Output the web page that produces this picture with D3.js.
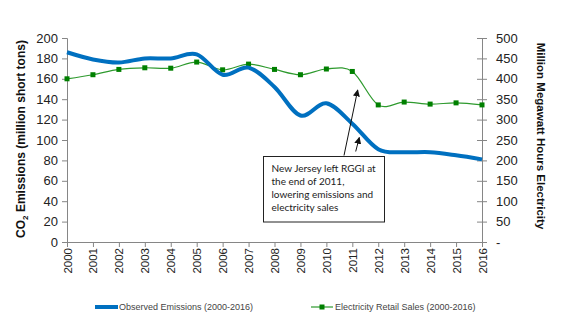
<!DOCTYPE html>
<html>
<head>
<meta charset="utf-8">
<script src="https://cdn.jsdelivr.net/npm/d3@7"></script>
<style>
  body { margin: 0; background: #fff; }
  svg { display: block; font-family: "Liberation Sans", Arial, sans-serif; }
</style>
</head>
<body>
<div id="chart"></div>
<script>
// years on the x axis
var years = [2000, 2001, 2002, 2003, 2004, 2005, 2006, 2007, 2008,
             2009, 2010, 2011, 2012, 2013, 2014, 2015, 2016];
// CO2 emissions, million short tons (left axis)
var emissions = [186, 179, 176, 180, 180, 184, 164, 171, 152,
                 124, 136, 116, 91, 88, 88, 85, 81];
// electricity retail sales, million MWh (right axis)
var sales = [400, 410, 423, 427, 426, 441, 422, 436, 423,
             410, 424, 418, 336, 343, 338, 341, 336];

var leftTicks = [0, 20, 40, 60, 80, 100, 120, 140, 160, 180, 200];
var rightTicks = [0, 50, 100, 150, 200, 250, 300, 350, 400, 450, 500];
var seriesNames = ["Observed Emissions (2000-2016)", "Electricity Retail Sales (2000-2016)"];
var noteLines = ["New Jersey left RGGI at", "the end of 2011,", "lowering emissions and", "electricity sales"];

var width = 576, height = 330;
// plot edges (window.top is read-only, so keep these names distinct)
var pLeft = 67, pRight = 482, pTop = 38, pBottom = 242;
var axisColor = "#868686";

var svg = d3.select("#chart").append("svg")
  .attr("width", width)
  .attr("height", height);

var x = d3.scaleLinear().domain([2000, 2016]).range([pLeft, pRight]);
var yL = d3.scaleLinear().domain([0, 200]).range([pBottom, pTop]);
var yR = d3.scaleLinear().domain([0, 500]).range([pBottom, pTop]);

// left axis
var gL = svg.append("g").attr("transform", "translate(" + pLeft + ",0)")
  .call(d3.axisLeft(yL).tickValues(leftTicks).tickSize(5).tickPadding(4));
gL.selectAll("text").style("font-size", "13px").attr("fill", "#222");

// right axis, ticks cross the line
var gR = svg.append("g").attr("transform", "translate(" + pRight + ",0)")
  .call(d3.axisRight(yR).tickValues(rightTicks).tickSize(5).tickPadding(9)
    .tickFormat(function (d) { return d == 0 ? "-" : d; }));
gR.selectAll(".tick line").attr("x1", -5);
gR.selectAll("text").style("font-size", "13px").attr("fill", "#222");

// bottom axis
var gB = svg.append("g").attr("transform", "translate(0," + pBottom + ")")
  .call(d3.axisBottom(x).tickValues(years).tickSize(5).tickFormat(d3.format("d")));
gB.selectAll("text")
  .style("font-size", "11.5px").attr("fill", "#222")
  .attr("transform", "rotate(-90)")
  .attr("text-anchor", "end")
  .attr("x", -6).attr("y", 0).attr("dy", "0.35em");

svg.selectAll(".domain, .tick line").attr("stroke", axisColor);
svg.selectAll(".tick line").attr("stroke-width", 1);

// axis titles
var lt = svg.append("text")
  .attr("transform", "translate(25,139) rotate(-90)")
  .attr("text-anchor", "middle")
  .style("font-size", "12px").style("font-weight", "bold").attr("fill", "#111");
lt.append("tspan").text("CO");
lt.append("tspan").text("2").attr("dy", 3).style("font-size", "8px");
lt.append("tspan").text(" Emissions (million short tons)").attr("dy", -3);

svg.append("text")
  .attr("transform", "translate(537,136) rotate(90)")
  .attr("text-anchor", "middle")
  .style("font-size", "11.5px").style("font-weight", "bold").attr("fill", "#111")
  .text("Million Megawatt Hours Electricity");

// lines
var lineL = d3.line()
  .x(function (d, i) { return x(years[i]); })
  .y(function (d) { return yL(d); })
  .curve(d3.curveCatmullRom.alpha(0));
var lineR = d3.line()
  .x(function (d, i) { return x(years[i]); })
  .y(function (d) { return yR(d); })
  .curve(d3.curveCatmullRom.alpha(0));

svg.append("path").datum(sales)
  .attr("d", lineR)
  .attr("fill", "none")
  .attr("stroke", "#2e9a2e")
  .attr("stroke-width", 1.2);

svg.selectAll(".mark").data(sales).enter().append("rect")
  .attr("class", "mark")
  .attr("x", function (d, i) { return x(years[i]) - 2.5; })
  .attr("y", function (d) { return yR(d) - 2.5; })
  .attr("width", 5).attr("height", 5)
  .attr("fill", "#008000");

svg.append("path").datum(emissions)
  .attr("d", lineL)
  .attr("fill", "none")
  .attr("stroke", "#0070c0")
  .attr("stroke-width", 4);

// annotation box
var note = svg.append("g");
note.append("rect")
  .attr("x", 263.5).attr("y", 156.5)
  .attr("width", 121).attr("height", 65.5)
  .attr("fill", "#fff").attr("stroke", "#222").attr("stroke-width", 1);
note.selectAll("text").data(noteLines).enter().append("text")
  .attr("x", 271.5)
  .attr("y", function (d, i) { return 171.5 + i * 13; })
  .style("font-family", "Lato, 'Open Sans', sans-serif")
  .style("font-size", "10px")
  .attr("fill", "#222")
  .text(function (d) { return d; });

// arrows
svg.append("defs").append("marker")
  .attr("id", "head")
  .attr("viewBox", "0 0 10 10")
  .attr("refX", 9).attr("refY", 5)
  .attr("markerWidth", 7).attr("markerHeight", 7)
  .attr("markerUnits", "userSpaceOnUse")
  .attr("orient", "auto")
  .append("path").attr("d", "M0,0 L10,5 L0,10 z").attr("fill", "#111");

var arrows = [[344, 155.5, 357.7, 90], [355.7, 151.5, 359.3, 137.5]];
svg.selectAll(".arrow").data(arrows).enter().append("line")
  .attr("class", "arrow")
  .attr("x1", function (d) { return d[0]; })
  .attr("y1", function (d) { return d[1]; })
  .attr("x2", function (d) { return d[2]; })
  .attr("y2", function (d) { return d[3]; })
  .attr("stroke", "#111").attr("stroke-width", 1)
  .attr("marker-end", "url(#head)");

// legend
var lg = svg.append("g").style("font-size", "9px");
lg.append("line").attr("x1", 95).attr("x2", 118).attr("y1", 307).attr("y2", 307)
  .attr("stroke", "#0070c0").attr("stroke-width", 4);
lg.append("text").attr("x", 119).attr("y", 310).attr("fill", "#444").text(seriesNames[0]);
lg.append("line").attr("x1", 311).attr("x2", 333).attr("y1", 307).attr("y2", 307)
  .attr("stroke", "#2e9a2e").attr("stroke-width", 1.2);
lg.append("rect").attr("x", 319.5).attr("y", 304.5).attr("width", 5).attr("height", 5)
  .attr("fill", "#008000");
lg.append("text").attr("x", 335).attr("y", 310).attr("fill", "#444").text(seriesNames[1]);
</script>
</body>
</html>
